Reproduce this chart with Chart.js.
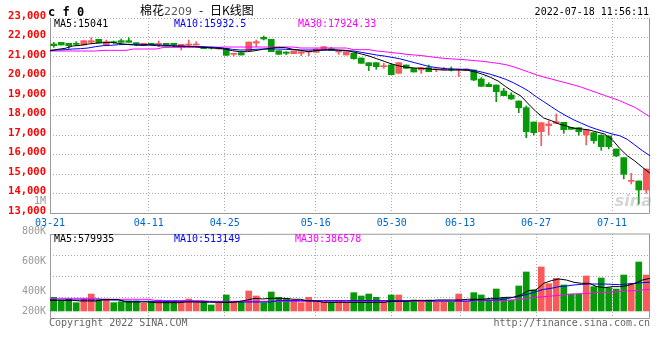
<!DOCTYPE html>
<html>
<head>
<meta charset="utf-8">
<script src="https://cdn.jsdelivr.net/npm/chart.js@4/dist/chart.umd.min.js"></script>
<style>
  html, body { margin: 0; padding: 0; background: #fff; }
  #wrap { position: relative; width: 660px; height: 360px; }
  #wrap canvas { position: absolute; left: 0; top: 0; }
</style>
</head>
<body>
<div id="wrap">
  <canvas id="kChart" width="660" height="360"></canvas>
  <canvas id="volChart" width="660" height="360"></canvas>
</div>
<script>
// trading days shown on the chart
const dates = [
  '03-21','03-22','03-23','03-24','03-25','03-28','03-29','03-30','03-31',
  '04-01','04-06','04-07','04-08','04-11','04-12','04-13','04-14','04-15','04-18','04-19',
  '04-20','04-21','04-22','04-25','04-26','04-27','04-28','04-29',
  '05-05','05-06','05-09','05-10','05-11','05-12','05-13','05-16','05-17','05-18','05-19',
  '05-20','05-23','05-24','05-25','05-26','05-27','05-30','05-31',
  '06-01','06-02','06-06','06-07','06-08','06-09','06-10','06-13','06-14','06-15','06-16',
  '06-17','06-20','06-21','06-22','06-23','06-24','06-27','06-28','06-29','06-30',
  '07-01','07-04','07-05','07-06','07-07','07-08','07-11','07-12','07-13','07-14','07-15','07-18'
];
const shownDates = ['03-21', '04-11', '04-25', '05-16', '05-30', '06-13', '06-27', '07-11'];

const openPrice = [
  21666, 21752, 21700, 21700, 21615, 21752, 21905, 21615, 21786, 21837,
  21837, 21735, 21581, 21700, 21649, 21700, 21700, 21530, 21615, 21615,
  21512, 21478, 21410, 21444, 21136, 21222, 21324, 21717, 22008, 21905,
  21324, 21256, 21171, 21188, 21256, 21239, 21359, 21427, 21256, 21102,
  21205, 20948, 20709, 20709, 20504, 20590, 20162, 20590, 20419, 20333,
  20453, 20350, 20333, 20385, 20333, 20316, 20333, 19872, 19598, 19564,
  19257, 19051, 18744, 18402, 17667, 17172, 17479, 17599, 17650, 17394,
  17377, 17001, 17120, 17001, 16949, 16283, 15838, 14625, 14642, 14181
];
const closePrice = [
  21581, 21615, 21581, 21649, 21837, 21837, 21735, 21786, 21735, 21752,
  21752, 21683, 21700, 21649, 21700, 21615, 21615, 21649, 21649, 21649,
  21427, 21444, 21478, 21085, 21188, 21102, 21769, 21786, 21923, 21273,
  21136, 21188, 21307, 21273, 21290, 21410, 21530, 21341, 21290, 21273,
  20914, 20675, 20555, 20504, 20555, 20094, 20709, 20419, 20231, 20453,
  20248, 20385, 20402, 20333, 20385, 20385, 19821, 19496, 19479, 19222,
  19017, 18846, 18402, 17172, 17120, 17633, 17565, 17684, 17274, 17291,
  17172, 17257, 16710, 16402, 16402, 15924, 14984, 14676, 14181, 15257
];
const highPrice = [
  21752, 21752, 21700, 21786, 21837, 21991, 21905, 21871, 21820, 21923,
  21991, 21735, 21700, 21700, 21820, 21700, 21700, 21649, 21871, 21786,
  21512, 21512, 21478, 21444, 21188, 21222, 21769, 21871, 22076, 21905,
  21324, 21273, 21307, 21273, 21290, 21410, 21530, 21495, 21290, 21273,
  21205, 20948, 20709, 20709, 20675, 20675, 20709, 20590, 20419, 20453,
  20590, 20385, 20470, 20487, 20385, 20385, 20333, 19940, 19684, 19564,
  19393, 19171, 18744, 18488, 17667, 17633, 17718, 18077, 17650, 17394,
  17377, 17257, 17120, 17001, 16949, 16283, 15838, 15035, 14642, 15257
];
const lowPrice = [
  21495, 21615, 21444, 21581, 21615, 21700, 21735, 21615, 21700, 21752,
  21752, 21581, 21581, 21649, 21530, 21615, 21530, 21359, 21530, 21615,
  21427, 21410, 21410, 21085, 21051, 21102, 21324, 21530, 21871, 21273,
  21136, 21119, 21171, 21068, 21068, 21239, 21359, 21341, 21136, 21102,
  20880, 20675, 20299, 20367, 20419, 20094, 20162, 20419, 20231, 20162,
  20248, 20248, 20333, 20282, 19991, 20316, 19786, 19496, 19479, 18710,
  19017, 18829, 18146, 16864, 17001, 16454, 17001, 17599, 17086, 17291,
  16984, 16488, 16573, 16215, 16283, 15890, 14745, 14488, 13463, 14010
];

const ma5 = [
  21324, 21393, 21444, 21564, 21598, 21666, 21700, 21735, 21752, 21700,
  21649, 21615, 21598, 21615, 21581, 21564, 21564, 21547, 21547, 21530,
  21495, 21478, 21444, 21410, 21324, 21273, 21273, 21324, 21393, 21444,
  21495, 21478, 21393, 21341, 21273, 21324, 21359, 21376, 21359, 21341,
  21256, 21154, 21051, 20914, 20778, 20641, 20538, 20470, 20436, 20419,
  20385, 20350, 20333, 20333, 20333, 20316, 20231, 20111, 19957, 19769,
  19479, 19222, 19000, 18590, 18197, 17872, 17736, 17565, 17462, 17342,
  17308, 17257, 17155, 17052, 16778, 16317, 15941, 15668, 15343, 15041
];
const ma10 = [
  21341, 21359, 21376, 21410, 21427, 21461, 21530, 21581, 21598, 21632,
  21649, 21649, 21649, 21632, 21632, 21598, 21581, 21564, 21547, 21547,
  21530, 21512, 21495, 21444, 21393, 21359, 21359, 21393, 21410, 21410,
  21410, 21393, 21376, 21359, 21359, 21359, 21359, 21359, 21341, 21324,
  21307, 21239, 21171, 21102, 21051, 20983, 20914, 20812, 20709, 20607,
  20504, 20453, 20402, 20385, 20367, 20367, 20299, 20213, 20111, 19991,
  19855, 19684, 19479, 19257, 18966, 18710, 18453, 18197, 17975, 17770,
  17599, 17428, 17291, 17172, 17052, 16966, 16779, 16488, 16197, 15932.5
];
const ma30 = [
  21307, 21307, 21307, 21307, 21307, 21307, 21307, 21341, 21341, 21341,
  21341, 21410, 21410, 21410, 21410, 21495, 21495, 21495, 21495, 21495,
  21495, 21495, 21495, 21512, 21512, 21512, 21512, 21512, 21512, 21512,
  21512, 21512, 21512, 21461, 21461, 21461, 21461, 21461, 21461, 21461,
  21376, 21376, 21376, 21307, 21273, 21222, 21188, 21136, 21102, 21068,
  21017, 20966, 20931, 20897, 20880, 20846, 20812, 20778, 20726, 20675,
  20607, 20504, 20367, 20231, 20094, 19974, 19872, 19769, 19667, 19564,
  19445, 19308, 19171, 19034, 18898, 18761, 18590, 18419, 18180, 17924.33
];

const volume = [
  243000, 178000, 213000, 148000, 213000, 302000, 196000, 213000, 148000, 166000,
  178000, 178000, 136000, 166000, 196000, 178000, 178000, 166000, 213000, 154000,
  166000, 107000, 136000, 285000, 166000, 154000, 356000, 267000, 148000, 338000,
  243000, 225000, 178000, 148000, 243000, 178000, 166000, 154000, 178000, 154000,
  326000, 267000, 302000, 243000, 166000, 285000, 285000, 166000, 196000, 196000,
  196000, 154000, 154000, 154000, 302000, 166000, 326000, 285000, 196000, 391000,
  243000, 196000, 445000, 694000, 374000, 783000, 486000, 581000, 463000, 302000,
  302000, 623000, 433000, 587000, 415000, 391000, 640000, 492000, 872000, 640000
];
const volMa5 = [
  190000, 190000, 190000, 190000, 178000, 178000, 178000, 202000, 202000, 202000,
  160000, 160000, 160000, 160000, 148000, 148000, 148000, 148000, 160000, 160000,
  160000, 160000, 154000, 154000, 154000, 172000, 196000, 225000, 213000, 225000,
  225000, 225000, 208000, 208000, 178000, 178000, 154000, 154000, 154000, 154000,
  154000, 154000, 154000, 154000, 154000, 172000, 172000, 172000, 184000, 184000,
  184000, 196000, 196000, 196000, 196000, 208000, 208000, 208000, 225000, 225000,
  243000, 243000, 285000, 362000, 374000, 492000, 540000, 569000, 551000, 510000,
  492000, 492000, 433000, 415000, 433000, 433000, 451000, 492000, 551000, 579935
];
const volMa10 = [
  196000, 196000, 196000, 196000, 196000, 196000, 196000, 196000, 196000, 196000,
  172000, 172000, 172000, 172000, 172000, 172000, 172000, 172000, 172000, 172000,
  160000, 160000, 160000, 160000, 160000, 160000, 160000, 160000, 160000, 160000,
  184000, 184000, 184000, 184000, 184000, 184000, 184000, 184000, 184000, 184000,
  184000, 184000, 184000, 184000, 184000, 184000, 184000, 184000, 184000, 184000,
  178000, 178000, 178000, 178000, 178000, 178000, 196000, 196000, 196000, 196000,
  213000, 243000, 267000, 302000, 344000, 385000, 403000, 433000, 445000, 463000,
  474000, 480000, 480000, 480000, 474000, 468000, 480000, 492000, 504000, 513149
];
const volMa30 = [
  225000, 225000, 225000, 225000, 225000, 225000, 225000, 208000, 208000, 208000,
  208000, 208000, 208000, 208000, 184000, 184000, 184000, 184000, 184000, 184000,
  184000, 172000, 172000, 172000, 172000, 172000, 172000, 172000, 172000, 172000,
  172000, 172000, 172000, 172000, 172000, 172000, 172000, 172000, 172000, 172000,
  172000, 172000, 172000, 172000, 172000, 172000, 172000, 172000, 172000, 172000,
  172000, 172000, 172000, 172000, 172000, 172000, 184000, 184000, 184000, 184000,
  184000, 196000, 208000, 225000, 243000, 255000, 267000, 279000, 291000, 302000,
  308000, 314000, 326000, 332000, 338000, 344000, 356000, 362000, 374000, 386578
];

const RED = '#f65a5a';
const GREEN = '#08990a';
const GRID = '#aaaaaa';
const FRAME = '#999999';
const MONO = '"DejaVu Sans Mono", monospace';

const candleColors = closePrice.map((c, i) => c >= openPrice[i] ? RED : GREEN);
const bodies = openPrice.map((o, i) => [o, closePrice[i]]);
const wicks = lowPrice.map((l, i) => [l, highPrice[i]]);

const keepShown = (scale) => {
  scale.ticks = scale.ticks.filter(t => shownDates.includes(dates[t.value]));
};

const frame = {
  id: 'frame',
  beforeDatasetsDraw(chart, args, opts) {
    const { ctx, chartArea: a } = chart;
    ctx.save();
    ctx.strokeStyle = FRAME;
    ctx.lineWidth = 1;
    ctx.beginPath();
    ctx.moveTo(a.left + 0.5, a.top);
    ctx.lineTo(a.left + 0.5, a.bottom + 0.5);
    ctx.lineTo(a.right - 0.5, a.bottom + 0.5);
    ctx.lineTo(a.right - 0.5, a.top);
    if (opts.top) {
      ctx.lineTo(a.left + 0.5, a.top + 0.5);
    }
    ctx.stroke();
    ctx.restore();
  }
};

const kText = {
  id: 'kText',
  afterDraw(chart) {
    const ctx = chart.ctx;
    ctx.save();
    ctx.textBaseline = 'alphabetic';
    ctx.fillStyle = '#000';
    ctx.font = 'bold 12px ' + MONO;
    ctx.fillText('c f 0', 48, 16);
    ctx.font = '12px "Noto Sans CJK SC"';
    ctx.fillText('棉花', 140, 15);
    ctx.fillStyle = '#555';
    ctx.font = '11px "DejaVu Sans"';
    ctx.fillText('2209', 164, 15);
    ctx.fillStyle = '#000';
    ctx.font = '12px "Noto Sans CJK SC"';
    ctx.fillText('-', 199, 15);
    ctx.fillText('日K线图', 210, 15);
    ctx.font = '10px ' + MONO;
    ctx.textAlign = 'right';
    ctx.fillText('2022-07-18 11:56:11', 649, 15);
    ctx.textAlign = 'left';
    ctx.fillText('MA5:' + ma5[ma5.length - 1], 54, 27);
    ctx.fillStyle = '#0000ff';
    ctx.fillText('MA10:' + ma10[ma10.length - 1], 174, 27);
    ctx.fillStyle = '#ff00ff';
    ctx.fillText('MA30:' + ma30[ma30.length - 1], 298, 27);
    // sina watermark
    ctx.fillStyle = 'rgba(150,150,150,0.4)';
    ctx.font = 'italic bold 16px "DejaVu Sans"';
    ctx.textAlign = 'right';
    ctx.fillText('sina', 652, 206);
    ctx.restore();
  }
};

const volText = {
  id: 'volText',
  afterDraw(chart) {
    const ctx = chart.ctx;
    ctx.save();
    ctx.font = '10px ' + MONO;
    ctx.textBaseline = 'middle';
    ctx.fillStyle = '#000';
    ctx.fillText('MA5:' + volMa5[volMa5.length - 1], 54, 239);
    ctx.fillStyle = '#0000ff';
    ctx.fillText('MA10:' + volMa10[volMa10.length - 1], 174, 239);
    ctx.fillStyle = '#ff00ff';
    ctx.fillText('MA30:' + volMa30[volMa30.length - 1], 295, 239);
    // volume axis labels as printed on the reference
    ctx.fillStyle = '#999';
    ctx.textAlign = 'right';
    [['1M', 201], ['800K', 231], ['600K', 261], ['400K', 291], ['200K', 311]].forEach(([t, y]) => {
      ctx.fillText(t, 46, y);
    });
    ctx.fillStyle = '#666';
    ctx.textAlign = 'left';
    ctx.fillText('Copyright 2022 SINA.COM', 49, 323);
    ctx.textAlign = 'right';
    ctx.fillText('http://finance.sina.com.cn', 650, 323);
    ctx.restore();
  }
};

const maLine = (label, data, color) => ({
  type: 'line', label, data, xAxisID: 'xg',
  borderColor: color, borderWidth: 1, pointRadius: 0, tension: 0, order: 0
});

new Chart(document.getElementById('kChart'), {
  type: 'bar',
  data: {
    labels: dates,
    datasets: [
      maLine('MA5', ma5, '#000000'),
      maLine('MA10', ma10, '#0000ff'),
      maLine('MA30', ma30, '#ff00ff'),
      { label: 'body', data: bodies, backgroundColor: candleColors, barThickness: 6,
        minBarLength: 1, grouped: false, order: 1 },
      { label: 'wick', data: wicks, backgroundColor: candleColors, barThickness: 1,
        minBarLength: 1, grouped: false, order: 2 }
    ]
  },
  options: {
    responsive: false,
    animation: false,
    events: [],
    layout: { padding: { top: 18, right: 10, left: 0, bottom: 0 } },
    plugins: { legend: { display: false }, tooltip: { enabled: false }, frame: { top: false } },
    scales: {
      x: { display: false, offset: true },
      xg: {
        type: 'category', position: 'bottom', offset: false,
        grid: { offset: false, color: GRID, drawTicks: false },
        border: { display: false, dash: [1, 2] },
        ticks: { autoSkip: false, maxRotation: 0, color: '#0066cc', padding: 4,
                 font: { family: MONO, size: 10 } },
        afterBuildTicks: keepShown,
        afterFit: (s) => { s.height = 147; }
      },
      y: {
        min: 13000, max: 23000,
        grid: { color: GRID, drawTicks: false },
        border: { display: false, dash: [1, 2] },
        ticks: { stepSize: 1000, color: '#ff0000', padding: 4, labelOffset: -2,
                 font: { family: MONO, size: 10.5, weight: 'bold' } },
        afterFit: (s) => { s.width = 50; }
      }
    }
  },
  plugins: [frame, kText]
});

new Chart(document.getElementById('volChart'), {
  type: 'bar',
  data: {
    labels: dates,
    datasets: [
      maLine('MA5', volMa5, '#000000'),
      maLine('MA10', volMa10, '#0000ff'),
      maLine('MA30', volMa30, '#ff00ff'),
      { label: 'volume', data: volume, backgroundColor: candleColors, barThickness: 6,
        grouped: false, order: 1 }
    ]
  },
  options: {
    responsive: false,
    animation: false,
    events: [],
    layout: { padding: { top: 234, right: 10, left: 0, bottom: 0 } },
    plugins: { legend: { display: false }, tooltip: { enabled: false }, frame: { top: true } },
    scales: {
      x: { display: false, offset: true },
      xg: {
        type: 'category', position: 'bottom', offset: false,
        grid: { offset: false, color: GRID, drawTicks: false },
        border: { display: false, dash: [1, 2] },
        ticks: { display: false, autoSkip: false },
        afterBuildTicks: keepShown,
        afterFit: (s) => { s.height = 42; }
      },
      y: {
        min: -125000, max: 1370000,
        grid: { color: GRID, drawTicks: false },
        border: { display: false, dash: [1, 2] },
        ticks: { display: false },
        afterBuildTicks: (s) => {
          const step = (s.max - s.min) / 4;
          s.ticks = [1, 2, 3].map(k => ({ value: s.min + k * step }));
        },
        afterFit: (s) => { s.width = 50; }
      }
    }
  },
  plugins: [frame, volText]
});
</script>
</body>
</html>
